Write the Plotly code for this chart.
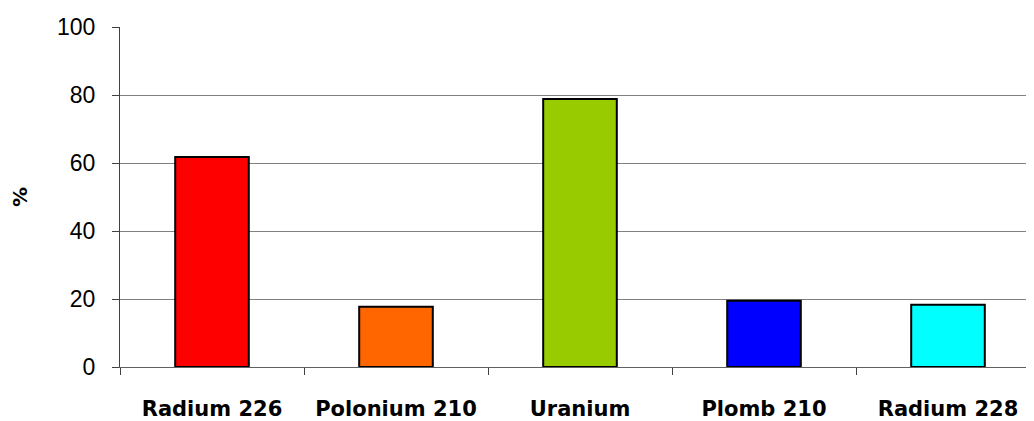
import plotly.graph_objects as go

elements = ["Radium 226", "Polonium 210", "Uranium", "Plomb 210", "Radium 228"]
percent = [61.8, 17.7, 78.8, 19.5, 18.3]
bar_colors = ["#FF0000", "#FF6600", "#99CC00", "#0000FF", "#00FFFF"]
y_ticks = [0, 20, 40, 60, 80, 100]

fig = go.Figure()
fig.add_trace(go.Bar(
    x=elements,
    y=percent,
    marker_color=bar_colors,
    marker_line_color="black",
    marker_line_width=2,
    width=0.4,
))

# the page body has an 8px margin, so the figure is a bit smaller than the window
fig.update_layout(
    width=1026, height=413,
    margin=dict(l=112, r=0, t=19, b=54),
    plot_bgcolor="white",
    paper_bgcolor="white",
    showlegend=False,
    font=dict(family="Liberation Sans, Arial", color="black"),
)
fig.update_xaxes(
    type="category",
    automargin=False,
    range=[-0.5, -0.5 + 914 / 184],
    tickson="boundaries",
    ticks="outside",
    ticklen=7,
    tickcolor="#404040",
    tickwidth=1,
    showline=True,
    linecolor="#606060",
    linewidth=1,
    showgrid=False,
    tickfont=dict(family="DejaVu Sans", size=21, weight="bold"),
    ticklabelstandoff=23,
)
fig.update_yaxes(
    automargin=False,
    range=[0, 100],
    tickvals=y_ticks,
    ticks="outside",
    ticklen=7,
    tickcolor="#404040",
    showline=True,
    linecolor="#404040",
    linewidth=1,
    showgrid=True,
    gridcolor="#808080",
    gridwidth=1,
    zeroline=False,
    tickfont=dict(family="Liberation Sans, Arial", size=23),
    ticklabelstandoff=12,
    title=dict(text="%", font=dict(family="DejaVu Sans", size=20, weight="bold"), standoff=40),
)

fig.write_html("out.html")
